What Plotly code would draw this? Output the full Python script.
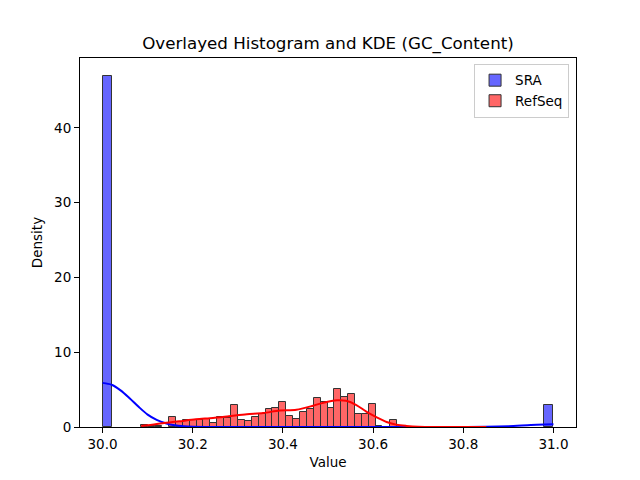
import plotly.graph_objects as go

# ---------------- data ----------------
# SRA histogram (bin width 0.02 over 30.0-31.0), non-empty bins only
sra_bin_left = [30.00, 30.60, 30.98]
sra_density = [47.0, 0.2, 2.9]
sra_bin_width = 0.02

# RefSeq histogram: 50 bins from 30.086 to ~30.851
refseq_bin_start = 30.086
refseq_bin_width = 0.0153
refseq_density = [0.3, 0.15, 0.15, 0.0, 1.3, 0.7, 0.9, 1.0, 1.0, 1.1,
                  0.5, 1.4, 1.15, 2.9, 1.0, 0.8, 1.4, 1.7, 2.4, 2.6,
                  3.3, 1.43, 1.03, 2.0, 2.37, 3.84, 3.39, 2.5, 5.13, 3.97,
                  4.37, 1.7, 1.7, 3.04, 0.0, 0.0, 0.9, 0.0, 0.0, 0.0,
                  0.0, 0.0, 0.0, 0.0, 0.0, 0.0, 0.0, 0.0, 0.0, 0.0]

# KDE curves
sra_kde_x = [30.00, 30.02, 30.04, 30.06, 30.08, 30.10, 30.12, 30.14, 30.16,
             30.18, 30.20, 30.25, 30.40, 30.60, 30.80, 30.85, 30.90, 30.95,
             30.98, 31.00]
sra_kde_y = [5.9, 5.65, 4.9, 3.85, 2.7, 1.65, 0.95, 0.5, 0.22,
             0.09, 0.03, 0.0, 0.0, 0.0, 0.0, 0.02, 0.1, 0.26,
             0.33, 0.38]

refseq_kde_x = [30.086, 30.11, 30.133, 30.17, 30.207, 30.245, 30.28, 30.32,
                30.356, 30.393, 30.43, 30.467, 30.49, 30.52, 30.54, 30.563,
                30.585, 30.608, 30.63, 30.652, 30.674, 30.70, 30.75, 30.80,
                30.851]
refseq_kde_y = [0.13, 0.3, 0.5, 0.76, 1.03, 1.2, 1.43, 1.7,
                1.87, 2.2, 2.3, 2.85, 3.25, 3.57, 3.5, 2.94,
                2.05, 1.3, 0.67, 0.3, 0.15, 0.05, 0.01, 0.0,
                0.0]

x_ticks = [30.0, 30.2, 30.4, 30.6, 30.8, 31.0]
y_ticks = [0, 10, 20, 30, 40]

# ---------------- figure ----------------
FONT = "DejaVu Sans"
fig = go.Figure()

sra_x = [l + sra_bin_width / 2 for l in sra_bin_left]
fig.add_trace(go.Bar(
    x=sra_x, y=sra_density, width=[sra_bin_width] * len(sra_x),
    name="SRA", marker=dict(color="rgb(102,102,255)",
                            line=dict(color="#333333", width=1)),
))

rs_x, rs_y = [], []
for i, d in enumerate(refseq_density):
    if d > 0:
        rs_x.append(refseq_bin_start + (i + 0.5) * refseq_bin_width)
        rs_y.append(d)
fig.add_trace(go.Bar(
    x=rs_x, y=rs_y, width=[refseq_bin_width] * len(rs_x),
    name="RefSeq", marker=dict(color="rgb(255,102,102)",
                               line=dict(color="#333333", width=1)),
))

fig.add_trace(go.Scatter(
    x=sra_kde_x, y=sra_kde_y, mode="lines", showlegend=False,
    line=dict(color="#0000ff", width=2, shape="spline", smoothing=0.8),
))
fig.add_trace(go.Scatter(
    x=refseq_kde_x, y=refseq_kde_y, mode="lines", showlegend=False,
    line=dict(color="#ff0000", width=2, shape="spline", smoothing=0.8),
))

fig.update_layout(
    width=640, height=480,
    margin=dict(l=80, r=64, t=58, b=53),
    paper_bgcolor="white", plot_bgcolor="white",
    barmode="overlay", bargap=0,
    font=dict(family=FONT, size=13, color="black"),
    title=dict(text="Overlayed Histogram and KDE (GC_Content)",
               xref="paper", x=0.5, xanchor="center",
               y=1 - 43 / 480, yanchor="middle",
               font=dict(family=FONT, size=16.7, color="black")),
    legend=dict(x=0.986, xanchor="right", y=0.984, yanchor="top",
                bgcolor="rgba(255,255,255,0.8)", bordercolor="#cccccc",
                borderwidth=1, font=dict(family=FONT, size=13.5),
                traceorder="normal", tracegroupgap=0),
    showlegend=True,
)
fig.update_xaxes(
    range=[29.95, 31.05], tickvals=x_ticks,
    ticktext=[f"{v:.1f}" for v in x_ticks],
    showline=True, linecolor="black", linewidth=1, mirror=True,
    ticks="outside", ticklen=5, tickcolor="black", showgrid=False,
    zeroline=False, title=dict(text="Value", font=dict(size=13.5), standoff=6),
    tickfont=dict(size=13.5),
)
fig.update_yaxes(
    range=[0, 49.35], tickvals=y_ticks,
    showline=True, linecolor="black", linewidth=1, mirror=True,
    ticks="outside", ticklen=5, tickcolor="black", showgrid=False,
    zeroline=False, title=dict(text="Density", font=dict(size=13.5), standoff=8),
    tickfont=dict(size=13.5),
)

fig.write_html("out.html")
